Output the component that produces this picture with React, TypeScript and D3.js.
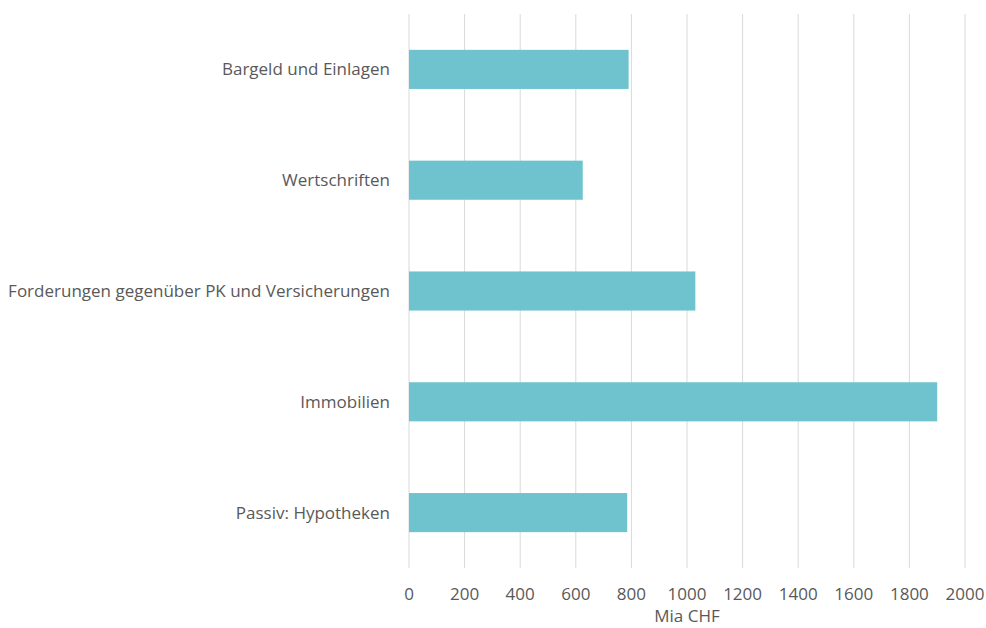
import React from "react";
import * as d3 from "d3";

const categories = [
  "Bargeld und Einlagen",
  "Wertschriften",
  "Forderungen gegenüber PK und Versicherungen",
  "Immobilien",
  "Passiv: Hypotheken",
];
const values = [790, 625, 1030, 1900, 785];
const xTicks = [0, 200, 400, 600, 800, 1000, 1200, 1400, 1600, 1800, 2000];
const axisTitle = "Mia CHF";

const width = 986;
const height = 628;
const left = 409;
const right = 965;
const top = 14;
const bottom = 568;
const font = "'Open Sans', sans-serif";
const textColor = "#595959";
const fontSize = 17;

export default function App() {
  const x = d3.scaleLinear().domain([0, 2000]).range([left, right]);
  const y = d3
    .scaleBand<string>()
    .domain(categories)
    .range([top, bottom])
    .paddingInner(0.647)
    .paddingOuter(0.3235);

  return (
    <svg
      width={width}
      height={height}
      style={{ position: "absolute", left: 0, top: 0, background: "#fff" }}
    >
      {xTicks.map((t) => (
        <line
          key={t}
          x1={x(t)}
          x2={x(t)}
          y1={top}
          y2={bottom}
          stroke="#d9d9d9"
          strokeWidth={1}
        />
      ))}
      {categories.map((c, i) => (
        <rect
          key={c}
          x={x(0)}
          y={y(c)!}
          width={x(values[i]) - x(0)}
          height={y.bandwidth()}
          fill="#6ec3cf"
        />
      ))}
      {categories.map((c) => (
        <text
          key={c}
          x={390}
          y={y(c)! + y.bandwidth() / 2}
          dy="0.35em"
          textAnchor="end"
          fontFamily={font}
          fontSize={fontSize}
          fill={textColor}
        >
          {c}
        </text>
      ))}
      {xTicks.map((t) => (
        <text
          key={t}
          x={x(t)}
          y={594}
          dy="0.35em"
          textAnchor="middle"
          fontFamily={font}
          fontSize={fontSize}
          fill={textColor}
        >
          {t}
        </text>
      ))}
      <text
        x={(left + right) / 2}
        y={616}
        dy="0.35em"
        textAnchor="middle"
        fontFamily={font}
        fontSize={fontSize}
        fill={textColor}
      >
        {axisTitle}
      </text>
    </svg>
  );
}
